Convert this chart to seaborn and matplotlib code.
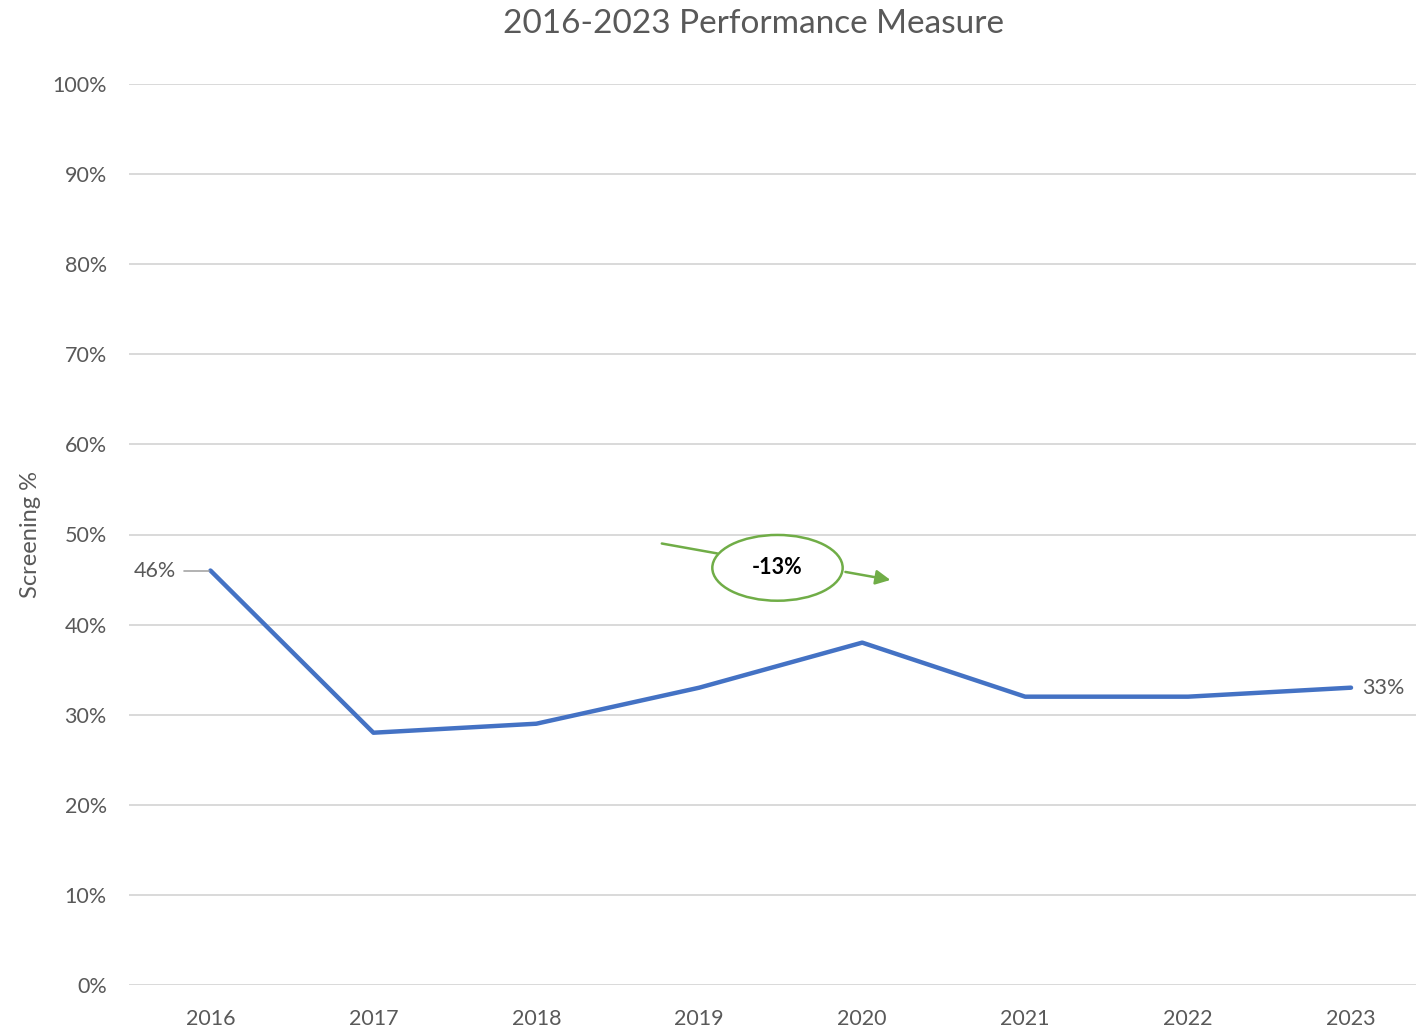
import numpy as np
import pandas as pd
import matplotlib
matplotlib.use('Agg')
import matplotlib.pyplot as plt
from matplotlib.patches import Ellipse
import seaborn as sns

# Данные
years = ['2016', '2017', '2018', '2019', '2020', '2021', '2022', '2023']
screening = [0.46, 0.28, 0.29, 0.33, 0.38, 0.32, 0.32, 0.33]
change_label = '-13%'

df = pd.DataFrame({'year': years, 'screening': screening})

sns.set_style('white')
plt.rcParams['font.family'] = ['Lato', 'DejaVu Sans']

TEXT_COLOR = '#595959'
LINE_COLOR = '#4472C4'
GREEN = '#70AD47'
TICK_SIZE = 15.5

fig = plt.figure(figsize=(14.16, 10.29), dpi=100)
ax = fig.add_axes([129 / 1416, 44 / 1029, 1 - 129 / 1416, 901 / 1029])

sns.lineplot(data=df, x='year', y='screening', ax=ax, color=LINE_COLOR,
             linewidth=3.2, sort=False)
ax.lines[0].set_solid_capstyle('round')

ax.set_xlim(-0.5, (1416 - 210) / 163)
ax.set_ylim(0, 1)
ax.set_yticks(np.arange(0, 1.01, 0.1))
ax.set_yticklabels([f'{int(round(v * 100))}%' for v in np.arange(0, 1.01, 0.1)])
ax.yaxis.grid(True, color='#d9d9d9', linewidth=1.4)
ax.set_axisbelow(True)
for s in ax.spines.values():
    s.set_visible(False)
ax.tick_params(axis='both', length=0, labelsize=TICK_SIZE, labelcolor=TEXT_COLOR)
ax.tick_params(axis='y', pad=16)
ax.tick_params(axis='x', pad=17)
ax.set_xlabel('')
ax.set_ylabel('Screening %', fontsize=17, color=TEXT_COLOR, labelpad=8)

fig.text(0.532, 0.977, '2016-2023 Performance Measure', ha='center', va='center',
         fontsize=24, color=TEXT_COLOR)

# Подписи крайних точек
ax.plot([-0.16, -0.01], [screening[0], screening[0]], color='#a6a6a6', linewidth=1.2)
ax.text(-0.21, screening[0], f'{int(screening[0] * 100)}%', ha='right', va='center',
        fontsize=TICK_SIZE, color=TEXT_COLOR)
ax.text(7.07, screening[-1], f'{int(round(screening[-1] * 100))}%', ha='left', va='center',
        fontsize=TICK_SIZE, color=TEXT_COLOR)

# Аннотация изменения
ax.plot([2.77, 3.11], [0.49, 0.479], color=GREEN, linewidth=1.8)
ax.annotate('', xy=(4.19, 0.449), xytext=(3.88, 0.459),
            arrowprops=dict(arrowstyle='-|>', color=GREEN, lw=1.8, mutation_scale=22))
ax.add_patch(Ellipse((3.48, 0.463), 0.80, 0.073, facecolor='white',
                     edgecolor=GREEN, linewidth=1.8, zorder=5))
ax.text(3.48, 0.463, change_label, ha='center', va='center', fontsize=15.5,
        fontweight='bold', color='black', zorder=6)

plt.savefig('out.png', dpi=100)
